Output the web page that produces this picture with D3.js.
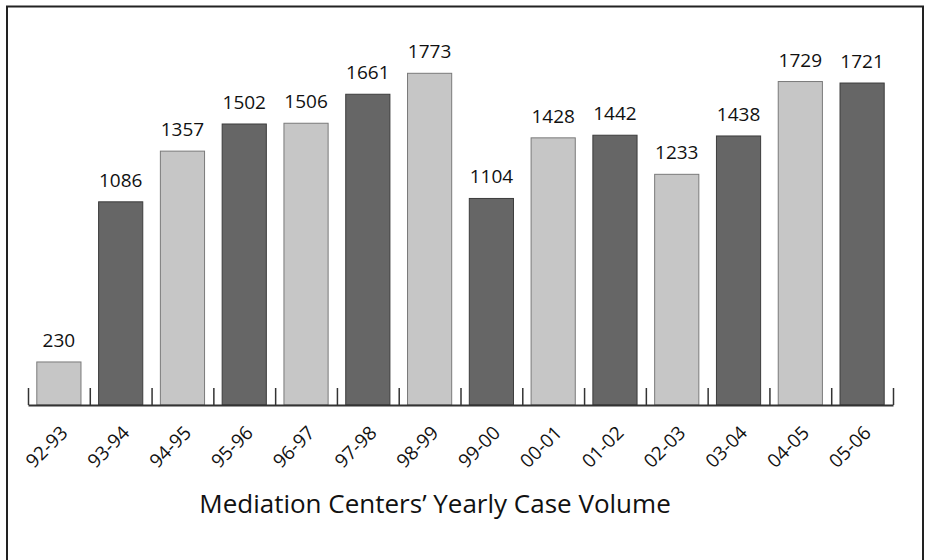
<!DOCTYPE html>
<html>
<head>
<meta charset="utf-8">
<script src="https://cdn.jsdelivr.net/npm/d3@7"></script>
<style>
  body { margin: 0; background: #fff; }
  svg { display: block; }
  text { font-family: "Open Sans", "Noto Sans", sans-serif; fill: #111; }
</style>
</head>
<body>
<script>
// datos del grafico
var years = ["92-93","93-94","94-95","95-96","96-97","97-98","98-99",
             "99-00","00-01","01-02","02-03","03-04","04-05","05-06"];
var cases = [230,1086,1357,1502,1506,1661,1773,1104,1428,1442,1233,1438,1729,1721];
var barColors = ["#c6c6c6", "#666666"];
var title = "Mediation Centers\u2019 Yearly Case Volume";

var W = 927, H = 560;
var baseY = 405, left = 28, right = 893;

var svg = d3.select("body").append("svg")
  .attr("width", W)
  .attr("height", H);

// marco
svg.append("rect")
  .attr("x", 7).attr("y", 6.5)
  .attr("width", 916).attr("height", 600)
  .attr("fill", "none")
  .attr("stroke", "#222")
  .attr("stroke-width", 2);

var x = d3.scaleBand()
  .domain(years)
  .range([left, right])
  .paddingInner(0.285)
  .paddingOuter(0.1425);

var y = d3.scaleLinear()
  .domain([0, d3.max(cases)])
  .range([baseY, 73.3]);

// barras
svg.selectAll(".bar")
  .data(years)
  .enter().append("rect")
  .attr("class", "bar")
  .attr("x", function(d) { return x(d); })
  .attr("width", x.bandwidth())
  .attr("y", function(d, i) { return y(cases[i]); })
  .attr("height", function(d, i) { return baseY - y(cases[i]); })
  .attr("fill", function(d, i) { return barColors[i % 2]; })
  .attr("stroke", function(d, i) { return i % 2 ? "#3c3c3c" : "#7a7a7a"; })
  .attr("stroke-width", 1);

// valores encima
svg.selectAll(".valor")
  .data(years)
  .enter().append("text")
  .attr("class", "valor")
  .attr("x", function(d) { return x(d) + x.bandwidth() / 2; })
  .attr("y", function(d, i) { return y(cases[i]) - 15; })
  .attr("text-anchor", "middle")
  .style("font-size", "19px")
  .text(function(d, i) { return cases[i]; });

// eje con marcas entre barras
var edges = d3.scaleLinear().domain([0, years.length]).range([left, right]);
var axis = d3.axisTop(edges)
  .tickValues(d3.range(years.length + 1))
  .tickSize(17)
  .tickSizeOuter(0)
  .tickFormat("");
var gAxis = svg.append("g")
  .attr("transform", "translate(0," + baseY + ")")
  .call(axis);
gAxis.select(".domain").attr("stroke", "#333").attr("stroke-width", 2);
gAxis.selectAll(".tick line").attr("stroke", "#333").attr("stroke-width", 1.5);

// etiquetas giradas
svg.selectAll(".etiqueta")
  .data(years)
  .enter().append("text")
  .attr("class", "etiqueta")
  .attr("text-anchor", "end")
  .attr("transform", function(d) {
    return "translate(" + (x(d) + x.bandwidth() / 2 + 10) + "," + (baseY + 29) + ") rotate(-45)";
  })
  .style("font-size", "19px")
  .text(function(d) { return d; });

// titulo
svg.append("text")
  .attr("x", 435)
  .attr("y", 513)
  .attr("text-anchor", "middle")
  .style("font-size", "26px")
  .text(title);
</script>
</body>
</html>
